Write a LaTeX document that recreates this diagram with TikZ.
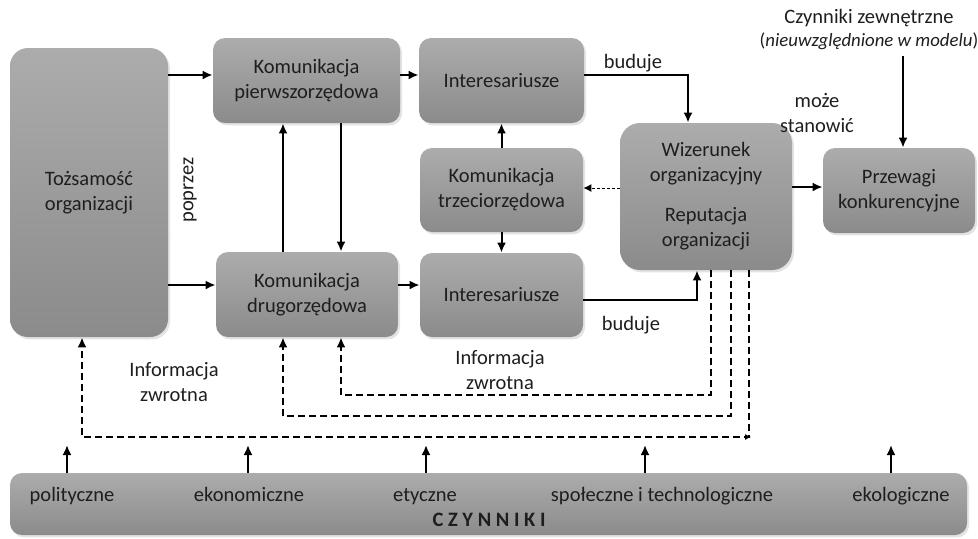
\documentclass[tikz,border=0pt]{standalone}
\usepackage{fontspec}
\setmainfont{Carlito}
\usetikzlibrary{arrows.meta,shadows}

\definecolor{boxtop}{HTML}{ACACAC}
\definecolor{boxbot}{HTML}{8B8B8B}
\definecolor{txt}{HTML}{1E1E1E}

\tikzset{
  blok/.style={rounded corners=6pt, top color=boxtop, bottom color=boxbot, draw=none,
    align=center, inner sep=0pt, text=txt,
    drop shadow={opacity=0.22, shadow xshift=1pt, shadow yshift=-1.2pt}},
  opis/.style={align=center, text=txt, inner sep=0pt},
  czyn/.style={text=txt, inner sep=0pt, anchor=base},
  strz/.style={line width=1pt, -{Latex[length=5pt,width=4.5pt]}},
  fb/.style={line width=1pt, dash pattern=on 3.5pt off 2pt, -{Latex[length=5pt,width=4.5pt]}},
  fbcienka/.style={line width=0.5pt, dash pattern=on 1.5pt off 1pt, -{Latex[length=4pt,width=4pt]}},
}

\begin{document}
\begin{tikzpicture}[x=0.5pt, y=-0.5pt, font=\fontsize{10.25}{12.5}\selectfont]
\useasboundingbox (0,0) rectangle (978,538);

% bloki
\node[blok, rounded corners=9pt, minimum width=79pt, minimum height=144.5pt] (toz) at (89,192.5) {Tożsamość\\organizacji};
\node[blok, minimum width=93.5pt, minimum height=42.5pt] (kp) at (306.5,80.5) {Komunikacja\\pierwszorzędowa};
\node[blok, minimum width=91pt, minimum height=42.5pt] (kd) at (307,294.5) {Komunikacja\\drugorzędowa};
\node[blok, minimum width=82.5pt, minimum height=42.5pt] (it) at (501.5,80.5) {Interesariusze};
\node[blok, minimum width=81.5pt, minimum height=42pt] (kt) at (501.5,190) {Komunikacja\\trzeciorzędowa};
\node[blok, minimum width=81.5pt, minimum height=42pt] (ib) at (501.5,295) {Interesariusze};
\node[blok, rounded corners=10pt, minimum width=86pt, minimum height=73.5pt] (wiz) at (706,196.5) {Wizerunek\\organizacyjny\\[7.5pt]Reputacja\\organizacji};
\node[blok, minimum width=76pt, minimum height=42.5pt] (prz) at (899,190.5) {Przewagi\\konkurencyjne};
\node[blok, minimum width=478.5pt, minimum height=31pt] (bar) at (488.5,504) {};

% czynniki
\node[czyn] (pol) at (72,501) {polityczne};
\node[czyn] (eko) at (249,501) {ekonomiczne};
\node[czyn] (ety) at (425,501) {etyczne};
\node[czyn] (spo) at (662,501) {społeczne i technologiczne};
\node[czyn] (ekl) at (901,501) {ekologiczne};
\node[czyn, font=\fontsize{10.25}{12.5}\selectfont\bfseries] (czy) at (489,526) {C Z Y N N I K I};

% podpisy
\node[opis, rotate=90] (pop) at (190,190) {poprzez};
\node[opis] (bud1) at (633,63) {buduje};
\node[opis] (bud2) at (631,325) {buduje};
\node[opis] (moz) at (817,112.5) {może\\stanowić};
\node[opis] (zew) at (869,29) {Czynniki zewnętrzne\\[-1pt]{\fontsize{9.4}{11}\selectfont(\textit{nieuwzględnione w modelu})}};
\node[opis] (inf1) at (174,382.5) {Informacja\\zwrotna};
\node[opis] (inf2) at (500,370) {Informacja\\zwrotna};

% strzalki
\draw[strz] (toz.east |- 0,75) -- (kp.west |- 0,75);
\draw[strz] (toz.east |- 0,285) -- (kd.west |- 0,285);
\draw[strz] (283,0 |- kd.north) -- (283,0 |- kp.south);
\draw[strz] (341,0 |- kp.south) -- (341,0 |- kd.north);
\draw[strz] (kp.east |- 0,75) -- (it.west |- 0,75);
\draw[strz] (kd.east |- 0,285) -- (ib.west |- 0,285);
\draw[strz] (kt.north) -- (it.south);
\draw[strz] (kt.south) -- (ib.north);
\draw[strz] (it.east |- 0,75) -| (688,0 |- wiz.north);
\draw[strz] (ib.east |- 0,300) -| (697,0 |- wiz.south);
\draw[fbcienka] (wiz.west |- 0,188) -- (kt.east |- 0,188);
\draw[strz] (wiz.east |- 0,187) -- (prz.west |- 0,187);
\draw[strz] (903,0 |- zew.south) ++(0,6) -- (903,0 |- prz.north);

% informacja zwrotna
\draw[fb] (711,0 |- wiz.south) |- (341,395) -- (341,0 |- kd.south);
\draw[fb] (731,0 |- wiz.south) |- (283,416) -- (283,0 |- kd.south);
\draw[fb] (749,0 |- wiz.south) |- (82,437) -- (82,0 |- toz.south);
\draw[-{Latex[length=3pt,width=3pt]}] (744,437) -- (751,437);

\foreach \x in {67,248,426,645,891}
  \draw[strz] (\x,0 |- bar.north) -- (\x,445);
\end{tikzpicture}
\end{document}
